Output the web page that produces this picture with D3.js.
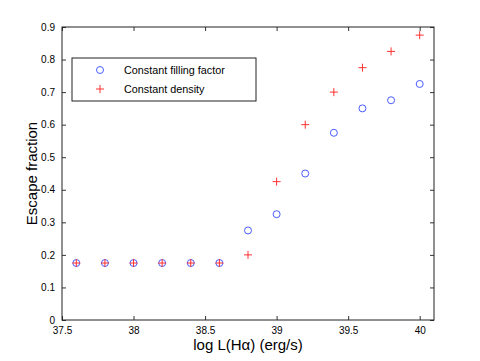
<!DOCTYPE html>
<html>
<head>
<meta charset="utf-8">
<script src="https://cdn.jsdelivr.net/npm/d3@7"></script>
<style>
  body { margin: 0; background: #fff; }
  text { font-family: "Liberation Sans", Arial, sans-serif; fill: #000; }
</style>
</head>
<body>
<div class="chart"></div>
<script>
var logL = [37.6, 37.8, 38.0, 38.2, 38.4, 38.6, 38.8, 39.0, 39.2, 39.4, 39.6, 39.8, 40.0];
var fillingFactor = [0.175, 0.175, 0.175, 0.175, 0.175, 0.175, 0.275, 0.325, 0.45, 0.575, 0.65, 0.675, 0.725];
var constDensity = [0.175, 0.175, 0.175, 0.175, 0.175, 0.175, 0.2, 0.425, 0.6, 0.7, 0.775, 0.825, 0.875];
var xTicks = [37.5, 38, 38.5, 39, 39.5, 40];
var yTicks = [0, 0.1, 0.2, 0.3, 0.4, 0.5, 0.6, 0.7, 0.8, 0.9];
var seriesNames = ["Constant filling factor", "Constant density"];

var svgWidth = 480;
var svgHeight = 361;
var margin = { top: 27, right: 46, bottom: 41, left: 62 };
var width = svgWidth - margin.left - margin.right;
var height = svgHeight - margin.top - margin.bottom;

var svg = d3.select(".chart")
  .append("svg")
  .attr("width", svgWidth)
  .attr("height", svgHeight);

var chart = svg.append("g")
  .attr("transform", "translate(" + margin.left + "," + margin.top + ")");

var x = d3.scaleLinear().domain([37.5, 40.1]).range([0, width]);
var y = d3.scaleLinear().domain([0, 0.9]).range([height, 0]);

var fmt = function(d) { return String(+d.toFixed(1)); };

// axes, ticks pointing inward like matlab
function styleAxis(g) {
  g.select(".domain").remove();
  g.selectAll("line").attr("stroke", "#333").attr("stroke-width", 1);
  g.selectAll("text").style("font-size", "10px").attr("fill", "#111");
}

chart.append("g")
  .attr("transform", "translate(0," + height + ")")
  .call(d3.axisBottom(x).tickValues(xTicks).tickFormat(fmt).tickSizeInner(-4).tickSizeOuter(0).tickPadding(7))
  .call(styleAxis);

chart.append("g")
  .call(d3.axisTop(x).tickValues(xTicks).tickFormat("").tickSizeInner(-4).tickSizeOuter(0))
  .call(styleAxis);

chart.append("g")
  .call(d3.axisLeft(y).tickValues(yTicks).tickFormat(fmt).tickSizeInner(-4).tickSizeOuter(0).tickPadding(7))
  .call(styleAxis);

chart.append("g")
  .attr("transform", "translate(" + width + ",0)")
  .call(d3.axisRight(y).tickValues(yTicks).tickFormat("").tickSizeInner(-4).tickSizeOuter(0))
  .call(styleAxis);

// box
chart.append("rect")
  .attr("x", 0).attr("y", 0)
  .attr("width", width).attr("height", height)
  .attr("fill", "none")
  .attr("stroke", "#222")
  .attr("stroke-width", 1);

var blue = "#4a5cff";
var red = "#ff3030";

function plus(sel, cx, cy, s) {
  sel.append("path")
    .attr("d", "M" + (cx - s) + "," + cy + "H" + (cx + s) + "M" + cx + "," + (cy - s) + "V" + (cy + s))
    .attr("stroke", red)
    .attr("stroke-width", 1)
    .attr("fill", "none");
}

chart.selectAll("circle.ff")
  .data(logL)
  .enter()
  .append("circle")
  .attr("class", "ff")
  .attr("cx", function(d) { return x(d); })
  .attr("cy", function(d, i) { return y(fillingFactor[i]); })
  .attr("r", 3.5)
  .attr("fill", "none")
  .attr("stroke", blue)
  .attr("stroke-width", 1);

logL.forEach(function(d, i) {
  plus(chart, x(d), y(constDensity[i]), 4);
});

// legend
var legend = chart.append("g").attr("transform", "translate(10,31)");
legend.append("rect")
  .attr("width", 184).attr("height", 43)
  .attr("fill", "#fff")
  .attr("stroke", "#222")
  .attr("stroke-width", 1);
legend.append("circle")
  .attr("cx", 28).attr("cy", 12).attr("r", 3.5)
  .attr("fill", "none").attr("stroke", blue);
plus(legend, 28, 31, 4);
legend.append("text").attr("x", 52).attr("y", 15.5)
  .style("font-size", "10.8px").text(seriesNames[0]);
legend.append("text").attr("x", 52).attr("y", 34.5)
  .style("font-size", "10.8px").text(seriesNames[1]);

// labels
svg.append("text")
  .attr("text-anchor", "middle")
  .attr("transform", "translate(248,350)")
  .style("font-size", "15px")
  .text("log L(Hα) (erg/s)");

svg.append("text")
  .attr("text-anchor", "middle")
  .attr("transform", "translate(37," + (margin.top + height / 2) + ") rotate(-90)")
  .style("font-size", "15px")
  .text("Escape fraction");
</script>
</body>
</html>
